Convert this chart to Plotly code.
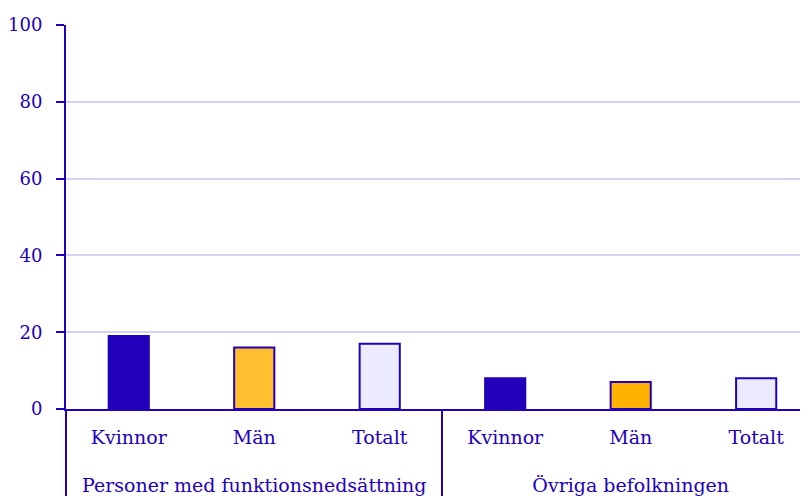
import plotly.graph_objects as go

# data
groups = ["Personer med funktionsnedsättning"] * 3 + ["Övriga befolkningen"] * 3
kategorier = ["Kvinnor", "Män", "Totalt", "Kvinnor", "Män", "Totalt"]
andel = [19, 16, 17, 8, 7, 8]
y_ticks = [0, 20, 40, 60, 80, 100]

BLUE = "#2200bb"
fills = ["#2200bb", "#ffbf2e", "#ecebfd", "#2200bb", "#ffb300", "#ecebfd"]

# gruppetiketterna ska ligga längre ner
group_labels = ["<br><span style='baseline-shift:-9px'>" + g + "</span>" for g in groups]

fig = go.Figure()
fig.add_trace(go.Bar(
    x=[group_labels, kategorier],
    y=andel,
    marker=dict(color=fills, line=dict(color=BLUE, width=2)),
    hoverinfo="y",
))

# sidan har 8px marginal i body -> figuren görs 8px mindre
fig.update_layout(
    width=800, height=488,
    margin=dict(l=55, r=0, t=17, b=87),
    paper_bgcolor="white", plot_bgcolor="white",
    font=dict(family="DejaVu Serif", size=18, color=BLUE),
    bargap=0.68,
    showlegend=False,
)
fig.update_xaxes(
    type="multicategory",
    range=[-0.5, 5.413],
    tickfont=dict(size=19),
    ticklabelstandoff=10,
    showline=True, linecolor=BLUE, linewidth=2,
    showdividers=True, dividercolor=BLUE, dividerwidth=2,
    showgrid=False, ticks="",
)
fig.update_yaxes(
    range=[0, 100], tickvals=y_ticks,
    showline=True, linecolor=BLUE, linewidth=2,
    ticks="outside", ticklen=8, tickcolor=BLUE, tickwidth=2,
    ticklabelstandoff=10,
    showgrid=True, gridcolor="#d3d3ef", gridwidth=2,
    zeroline=False,
)

fig.write_html("out.html")
